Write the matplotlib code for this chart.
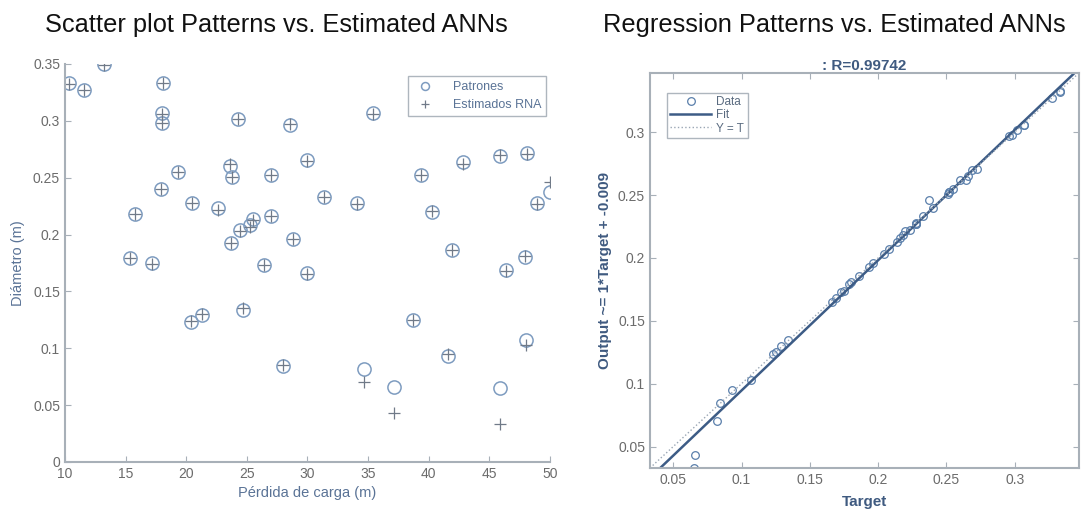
import matplotlib
matplotlib.use("Agg")
import matplotlib.pyplot as plt
import numpy as np

plt.rcParams['font.family'] = ['Liberation Sans', 'DejaVu Sans']

# Perdida de carga (m) vs Diametro (m): patrones y estimados RNA
perdida = [10.3, 11.6, 13.2, 15.4, 15.8, 17.2, 18.0, 18.0, 18.1, 17.9, 19.3, 20.5,
           20.4, 21.3, 22.6, 23.6, 23.8, 23.7, 24.4, 24.3, 24.7, 25.3, 25.5, 26.4,
           27.0, 27.0, 28.0, 28.6, 28.8, 30.0, 30.0, 31.4, 34.1, 34.7, 35.4, 37.1,
           38.7, 39.4, 40.3, 41.6, 41.9, 42.8, 45.9, 45.9, 46.4, 48.1, 47.9, 48.0,
           48.9, 50.0]
patrones = [0.333, 0.327, 0.350, 0.179, 0.218, 0.175, 0.307, 0.298, 0.333, 0.240,
            0.255, 0.228, 0.123, 0.129, 0.223, 0.260, 0.251, 0.193, 0.204, 0.302,
            0.134, 0.208, 0.214, 0.173, 0.252, 0.216, 0.084, 0.296, 0.196, 0.266,
            0.166, 0.233, 0.228, 0.082, 0.307, 0.066, 0.125, 0.252, 0.220, 0.093,
            0.186, 0.264, 0.269, 0.065, 0.169, 0.272, 0.180, 0.107, 0.228, 0.237]
estimados = [0.332, 0.327, 0.349, 0.179, 0.218, 0.174, 0.306, 0.298, 0.333, 0.240,
             0.255, 0.228, 0.124, 0.130, 0.222, 0.262, 0.251, 0.193, 0.203, 0.302,
             0.135, 0.207, 0.213, 0.173, 0.252, 0.216, 0.085, 0.297, 0.196, 0.265,
             0.165, 0.233, 0.227, 0.070, 0.306, 0.043, 0.125, 0.252, 0.221, 0.095,
             0.186, 0.262, 0.270, 0.033, 0.168, 0.271, 0.181, 0.103, 0.227, 0.246]

r_value = 0.99742
fit_label = 'Output ~= 1*Target + -0.009'

fig = plt.figure(figsize=(10.88, 5.14), dpi=100)

spine_c = '#a8b0b8'
tick_c = '#6b6b6b'
lab_c = '#5a7396'

# ---------- scatter plot ----------
ax1 = fig.add_axes([0.0597, 0.1012, 0.4458, 0.7743])
ax1.plot(perdida, patrones, 'o', mfc='none', mec='#7e9cc0', ms=9.5, mew=1.1, label='Patrones')
ax1.plot(perdida, estimados, '+', color='#707a88', ms=9, mew=0.9, label='Estimados RNA')
ax1.set_xlim(10, 50)
ax1.set_ylim(0, 0.35)
ax1.set_xticks(np.arange(10, 51, 5))
ax1.set_yticks([0, 0.05, 0.1, 0.15, 0.2, 0.25, 0.3, 0.35])
ax1.set_yticklabels(['0', '0.05', '0.1', '0.15', '0.2', '0.25', '0.3', '0.35'])
for s in ['top', 'right']:
    ax1.spines[s].set_visible(False)
for s in ['left', 'bottom']:
    ax1.spines[s].set_color(spine_c)
    ax1.spines[s].set_linewidth(1.5)
ax1.tick_params(direction='in', length=4, colors=spine_c, labelcolor=tick_c, labelsize=10)
ax1.set_xlabel('Pérdida de carga (m)', color=lab_c, fontsize=10.5, labelpad=4)
ax1.set_ylabel('Diámetro (m)', color=lab_c, fontsize=10.5, labelpad=6)
leg1 = ax1.legend(loc='upper right', bbox_to_anchor=(1.005, 0.985), fontsize=9,
                  frameon=True, fancybox=False, borderpad=0.4, handletextpad=1.2,
                  markerscale=0.6)
leg1.get_frame().set_edgecolor('#9aa4ae')
for t in leg1.get_texts():
    t.set_color(lab_c)

# ---------- regression plot ----------
ax2 = fig.add_axes([0.5974, 0.0895, 0.3943, 0.7685])
lims = (0.033, 0.347)
tg = np.array(patrones)
out = np.array(estimados)
slope, icpt = np.polyfit(tg, out, 1)
ax2.plot(tg, out, 'o', mfc='none', mec='#5a7fab', ms=5.5, mew=0.9, label='Data')
fx = np.array(lims)
ax2.plot(fx, slope * fx + icpt, '-', color='#3d5c86', lw=1.8, label='Fit')
ax2.plot(fx, fx, ':', color='#9aa6b4', lw=1.0, label='Y = T')
ax2.set_xlim(lims)
ax2.set_ylim(lims)
ax2.set_xticks([0.05, 0.1, 0.15, 0.2, 0.25, 0.3])
ax2.set_xticklabels(['0.05', '0.1', '0.15', '0.2', '0.25', '0.3'])
ax2.set_yticks([0.05, 0.1, 0.15, 0.2, 0.25, 0.3])
ax2.set_yticklabels(['0.05', '0.1', '0.15', '0.2', '0.25', '0.3'])
for s in ax2.spines.values():
    s.set_color(spine_c)
    s.set_linewidth(1.5)
ax2.tick_params(direction='in', length=4, colors=spine_c, labelcolor=tick_c, labelsize=10,
                top=True, right=True)
ax2.set_xlabel('Target', color='#3f5a80', fontsize=11, fontweight='bold', labelpad=6)
ax2.set_ylabel(fit_label, color='#3f5a80', fontsize=11, fontweight='bold', labelpad=4)
ax2.set_title(': R=%.5f' % r_value, color='#3f5a80', fontsize=11, fontweight='bold', pad=2)
leg2 = ax2.legend(loc='upper left', bbox_to_anchor=(0.025, 0.965), fontsize=8.5,
                  frameon=True, fancybox=False, borderpad=0.3, handlelength=3.5,
                  labelspacing=0.1, handletextpad=0.4)
leg2.get_frame().set_edgecolor('#9aa4ae')
for t in leg2.get_texts():
    t.set_color('#5a6b80')

fig.text(0.254, 0.938, 'Scatter plot Patterns vs. Estimated ANNs', ha='center', va='baseline',
         fontsize=18.3, color='#111111')
fig.text(0.767, 0.938, 'Regression Patterns vs. Estimated ANNs', ha='center', va='baseline',
         fontsize=18.3, color='#111111')

fig.savefig('out.png', dpi=100)
